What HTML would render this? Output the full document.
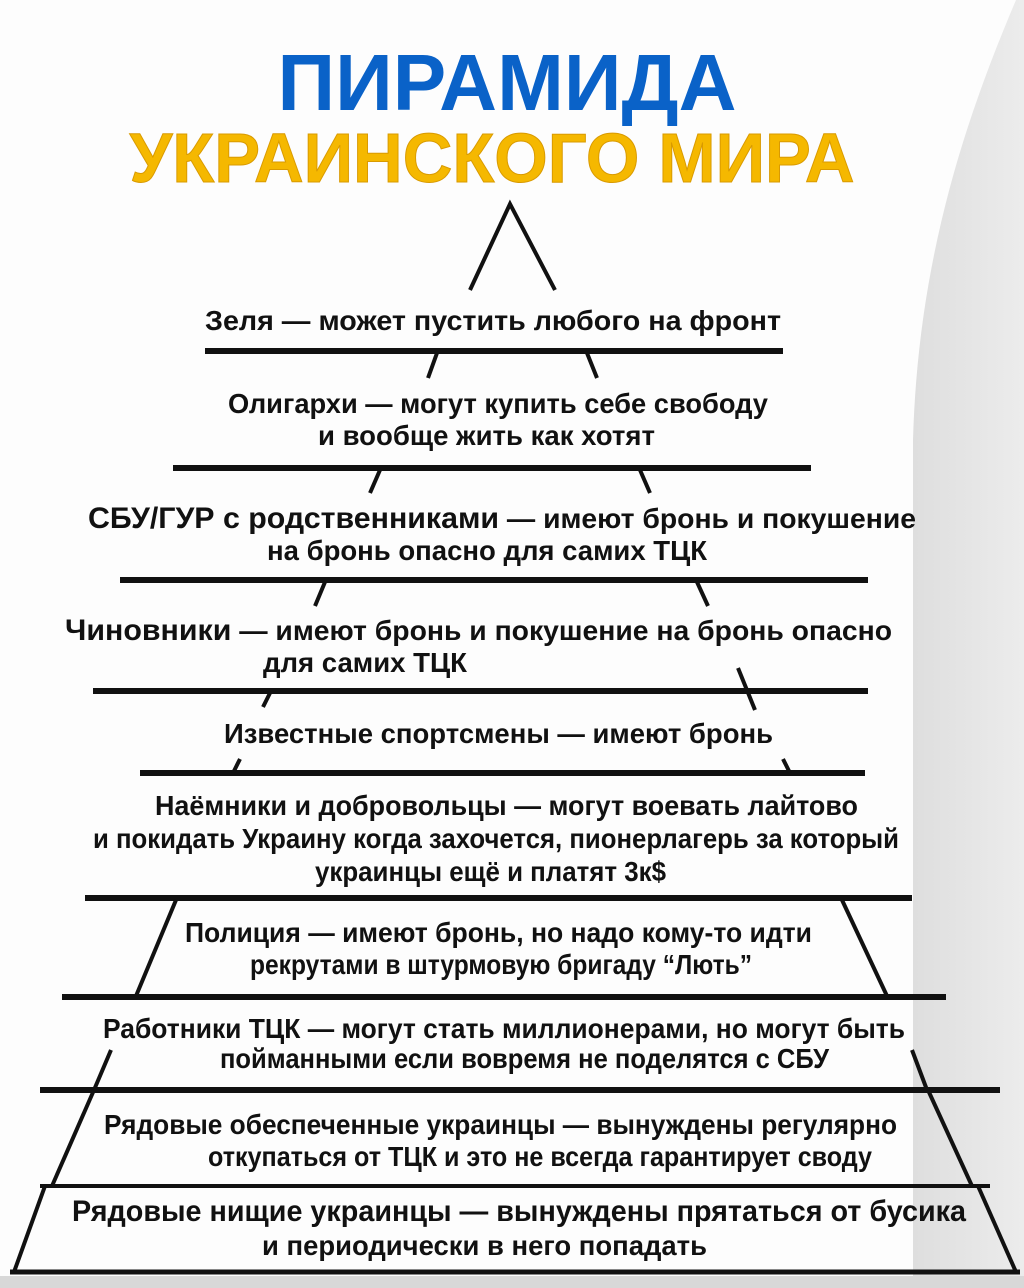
<!DOCTYPE html>
<html><head><meta charset="utf-8"><style>
html,body{margin:0;padding:0;background:#fff}
svg{display:block}
text{font-family:"Liberation Sans","DejaVu Sans",sans-serif;fill:#111}
</style></head><body>
<svg width="1024" height="1288" viewBox="0 0 1024 1288" xmlns="http://www.w3.org/2000/svg">
<defs>
<linearGradient id="bg" x1="0" y1="0" x2="1" y2="0">
<stop offset="0" stop-color="#dedede"/><stop offset="1" stop-color="#ececec"/>
</linearGradient>
</defs>
<rect width="1024" height="1288" fill="#fdfdfd"/>
<path d="M1024 0 L1016 0 C965 120 918 260 913 440 L913 1288 L1024 1288 Z" fill="url(#bg)"/>
<rect x="0" y="1276" width="1024" height="12" fill="#d8d8d8"/>

<g font-weight="bold">
<text x="507" y="110" font-size="80" text-anchor="middle" textLength="459" lengthAdjust="spacingAndGlyphs" style="fill:#0a62c8">ПИРАМИДА</text>
<text x="492" y="182" font-size="70" text-anchor="middle" textLength="725" lengthAdjust="spacingAndGlyphs" style="fill:#f5b800;stroke:#d99a00;stroke-width:1">УКРАИНСКОГО МИРА</text>
</g>

<g stroke="#111" stroke-linecap="butt" fill="none">
<polyline points="470,290 510,204 555,290" stroke-width="4"/>
<line x1="205" y1="351" x2="783" y2="351" stroke-width="6"/>
<line x1="437" y1="353" x2="428" y2="378" stroke-width="4"/>
<line x1="587" y1="353" x2="597" y2="378" stroke-width="4"/>
<line x1="173" y1="468" x2="811" y2="468" stroke-width="6"/>
<line x1="380" y1="470" x2="370" y2="493" stroke-width="4"/>
<line x1="640" y1="470" x2="650" y2="493" stroke-width="4"/>
<line x1="120" y1="580" x2="868" y2="580" stroke-width="6"/>
<line x1="325" y1="582" x2="315" y2="606" stroke-width="4"/>
<line x1="697" y1="582" x2="708" y2="606" stroke-width="4"/>
<line x1="93" y1="691" x2="868" y2="691" stroke-width="6"/>
<line x1="270" y1="693" x2="263" y2="707" stroke-width="4"/>
<line x1="738" y1="668" x2="755" y2="710" stroke-width="4"/>
<line x1="140" y1="773" x2="865" y2="773" stroke-width="6"/>
<line x1="240" y1="759" x2="233" y2="773" stroke-width="4"/>
<line x1="783" y1="759" x2="790" y2="773" stroke-width="4"/>
<line x1="85" y1="898" x2="912" y2="898" stroke-width="6"/>
<line x1="176" y1="900" x2="136" y2="996" stroke-width="4"/>
<line x1="842" y1="900" x2="887" y2="996" stroke-width="4"/>
<line x1="62" y1="997" x2="946" y2="997" stroke-width="6"/>
<line x1="111" y1="1050" x2="94" y2="1090" stroke-width="4"/>
<line x1="912" y1="1050" x2="927" y2="1090" stroke-width="4"/>
<line x1="40" y1="1090" x2="1000" y2="1090" stroke-width="6"/>
<line x1="94" y1="1090" x2="52" y2="1186" stroke-width="4"/>
<line x1="928" y1="1090" x2="972" y2="1186" stroke-width="4"/>
<line x1="40" y1="1186" x2="990" y2="1186" stroke-width="4"/>
<line x1="45" y1="1186" x2="14" y2="1272" stroke-width="4"/>
<line x1="978" y1="1186" x2="1016" y2="1272" stroke-width="4"/>
<line x1="10" y1="1272" x2="1020" y2="1272" stroke-width="5"/>
</g>

<g font-size="28" font-weight="600">
<text x="205" y="330" textLength="576" lengthAdjust="spacingAndGlyphs"><tspan font-weight="bold">Зеля</tspan> — может пустить любого на фронт</text>
<text x="228" y="413" textLength="540" lengthAdjust="spacingAndGlyphs"><tspan font-weight="bold">Олигархи</tspan> — могут купить себе свободу</text>
<text x="318" y="445" textLength="337" lengthAdjust="spacingAndGlyphs">и вообще жить как хотят</text>
<text x="88" y="528" textLength="828" lengthAdjust="spacingAndGlyphs"><tspan font-weight="bold" font-size="30">СБУ/ГУР с родственниками</tspan> — имеют бронь и покушение</text>
<text x="267" y="560" textLength="440" lengthAdjust="spacingAndGlyphs">на бронь опасно для самих ТЦК</text>
<text x="65" y="640" textLength="827" lengthAdjust="spacingAndGlyphs"><tspan font-weight="bold" font-size="30">Чиновники</tspan> — имеют бронь и покушение на бронь опасно</text>
<text x="263" y="672" textLength="204" lengthAdjust="spacingAndGlyphs">для самих ТЦК</text>
<text x="224" y="743" textLength="549" lengthAdjust="spacingAndGlyphs"><tspan font-weight="bold">Известные спортсмены</tspan> — имеют бронь</text>
<text x="155" y="815" textLength="703" lengthAdjust="spacingAndGlyphs"><tspan font-weight="bold">Наёмники и добровольцы</tspan> — могут воевать лайтово</text>
<text x="93" y="848" textLength="806" lengthAdjust="spacingAndGlyphs">и покидать Украину когда захочется, пионерлагерь за который</text>
<text x="315" y="881" textLength="351" lengthAdjust="spacingAndGlyphs">украинцы ещё и платят 3к$</text>
<text x="185" y="942" textLength="627" lengthAdjust="spacingAndGlyphs"><tspan font-weight="bold">Полиция</tspan> — имеют бронь, но надо кому-то идти</text>
<text x="250" y="974" textLength="502" lengthAdjust="spacingAndGlyphs">рекрутами в штурмовую бригаду “Лють”</text>
<text x="103" y="1038" textLength="802" lengthAdjust="spacingAndGlyphs"><tspan font-weight="bold">Работники ТЦК</tspan> — могут стать миллионерами, но могут быть</text>
<text x="220" y="1068" textLength="609" lengthAdjust="spacingAndGlyphs">пойманными если вовремя не поделятся с СБУ</text>
<text x="104" y="1134" textLength="793" lengthAdjust="spacingAndGlyphs">Рядовые обеспеченные украинцы — вынуждены регулярно</text>
<text x="208" y="1166" textLength="664" lengthAdjust="spacingAndGlyphs">откупаться от ТЦК и это не всегда гарантирует своду</text>
<text x="72" y="1221" font-size="30" textLength="894" lengthAdjust="spacingAndGlyphs"><tspan font-weight="bold">Рядовые нищие украинцы</tspan> — вынуждены прятаться от бусика</text>
<text x="262" y="1255" textLength="445" lengthAdjust="spacingAndGlyphs">и периодически в него попадать</text>
</g>
</svg>
</body></html>
